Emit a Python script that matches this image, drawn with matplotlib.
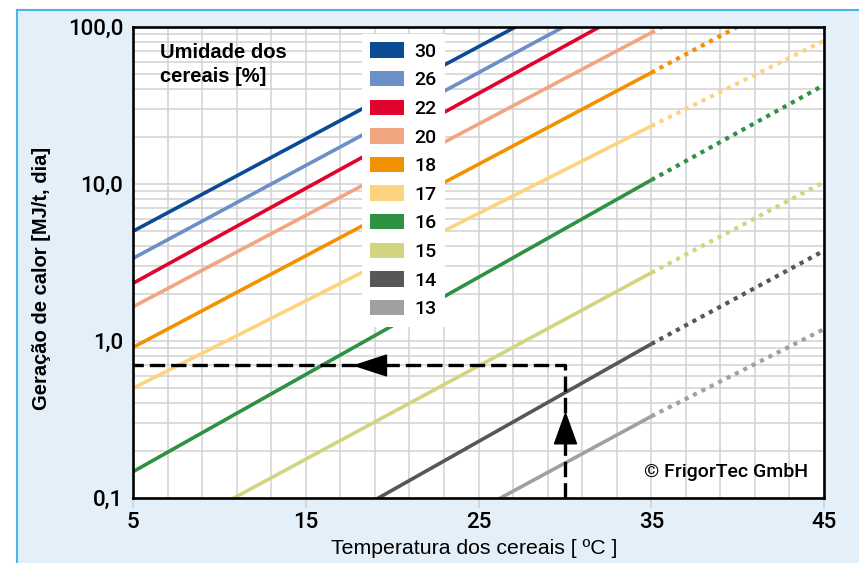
import matplotlib
matplotlib.use("Agg")
import matplotlib.pyplot as plt
from matplotlib.patches import Patch, Rectangle
from matplotlib.ticker import FixedLocator, NullFormatter

humidity = ["30", "26", "22", "20", "18", "17", "16", "15", "14", "13"]
temps = [5, 35, 45]
heat_30 = [5.0, 290, 1140]
heat_26 = [3.36, 200, 780]
heat_22 = [2.33, 152, 615]
heat_20 = [1.65, 92, 350]
heat_18 = [0.91, 51.2, 197]
heat_17 = [0.50, 23.4, 81.8]
heat_16 = [0.147, 10.6, 42.7]
heat_15 = [0.045, 2.72, 10.3]
heat_14 = [0.0131, 0.957, 3.76]
heat_13 = [0.0054, 0.331, 1.19]
heat = [heat_30, heat_26, heat_22, heat_20, heat_18,
        heat_17, heat_16, heat_15, heat_14, heat_13]
colors = ["#0b4a95", "#6b8fc7", "#e2032c", "#f2a581", "#f39200",
          "#fdd37f", "#2f9142", "#d3d480", "#575757", "#a0a0a1"]

# exemplo de leitura (setas)
example_temp = 30
example_heat = 0.70
arrow_up_heat = 0.28
arrow_left_temp = 18.7

yticks = [0.1, 1, 10, 100]
ytick_labels = ["0,1", "1,0", "10,0", "100,0"]
xticks = [5, 15, 25, 35, 45]

narrow = ["Roboto", "DejaVu Sans"]

fig = plt.figure(figsize=(8.59, 5.63), dpi=100, facecolor="white")
panel = Rectangle((17 / 859, -0.1), 1.0, 1.1 - 10 / 563,
                  transform=fig.transFigure, facecolor="#e3f0f9",
                  edgecolor="#4bb5e5", lw=1.5, zorder=-5)
fig.patches.append(panel)

ax = fig.add_axes([0.1548, 0.1155, 0.8045, 0.8365])
ax.set_zorder(2)
ax.set_facecolor("white")
ax.set_yscale("log")
ax.set_xlim(5, 45)
ax.set_ylim(0.1, 100)

for h, c in zip(heat, colors):
    ax.plot(temps[:2], h[:2], color=c, lw=2.6, solid_capstyle="butt", zorder=3)
    ax.plot(temps[1:], h[1:], color=c, lw=3.0, linestyle=(0, (1.0, 1.25)),
            dash_capstyle="butt", zorder=3)

# caminho de leitura tracejado
ax.plot([example_temp, example_temp, 5], [0.1, example_heat, example_heat],
        color="black", lw=2.4, linestyle=(0, (4.6, 1.8)), zorder=5)
ax.plot(arrow_left_temp, example_heat, color="black", zorder=6, markersize=23,
        marker=[(-1, 0), (1, 0.65), (1, -0.65), (-1, 0)])
ax.plot(example_temp, arrow_up_heat, color="black", zorder=6, markersize=22,
        marker=[(0, 1), (0.72, -1), (-0.72, -1), (0, 1)])

ax.xaxis.set_major_locator(FixedLocator(xticks))
ax.xaxis.set_minor_locator(FixedLocator(list(range(7, 45, 2))))
ax.set_yticks(yticks)
ax.set_yticklabels(ytick_labels)
ax.yaxis.set_minor_formatter(NullFormatter())
ax.grid(True, which="both", color="#d2d2d2", lw=1.1, zorder=1)
ax.set_axisbelow(True)

ax.tick_params(axis="x", which="major", length=7, width=1.1, color="#cfcfcf",
               pad=3, labelsize=16)
ax.tick_params(axis="x", which="minor", length=0)
ax.tick_params(axis="y", which="both", length=0, pad=7, labelsize=16)
for lab in ax.get_xticklabels() + ax.get_yticklabels():
    lab.set_family(narrow)
    lab.set_fontweight("medium")

for s in ax.spines.values():
    s.set_linewidth(1.9)
    s.set_color("black")
    s.set_zorder(7)

handles = [Patch(facecolor=c, edgecolor="none") for c in colors]
leg = ax.legend(handles, humidity, loc="upper left",
                bbox_to_anchor=(0.331, 0.986), frameon=True, fancybox=False,
                handlelength=1.75, handleheight=0.85, handletextpad=0.5,
                labelspacing=0.52, borderpad=0.45, borderaxespad=0,
                prop={"family": narrow, "size": 14, "weight": "medium"})
leg.get_frame().set_edgecolor("none")
leg.get_frame().set_facecolor("white")
leg.get_frame().set_alpha(1)
leg.set_zorder(8)

ax.text(0.039, 0.966, "Umidade dos\ncereais [%]", transform=ax.transAxes,
        ha="left", va="top", fontsize=14.5, fontweight="bold",
        family="Liberation Sans", linespacing=1.3, zorder=8)
ax.text(0.977, 0.035, "© FrigorTec GmbH", transform=ax.transAxes,
        ha="right", va="bottom", fontsize=14, family=narrow,
        fontweight="medium", zorder=8)

fig.text(474 / 859, 1 - 549 / 563, "Temperatura dos cereais [ ºC ]",
         ha="center", va="center", fontsize=15.3, family="Liberation Sans")
fig.text(42 / 859, 1 - 278 / 563, "Geração de calor [MJ/t, dia]",
         ha="center", va="center", rotation=90, fontsize=14.5,
         fontweight="bold", family="Liberation Sans")

fig.savefig("out.png", dpi=100, facecolor="white")
